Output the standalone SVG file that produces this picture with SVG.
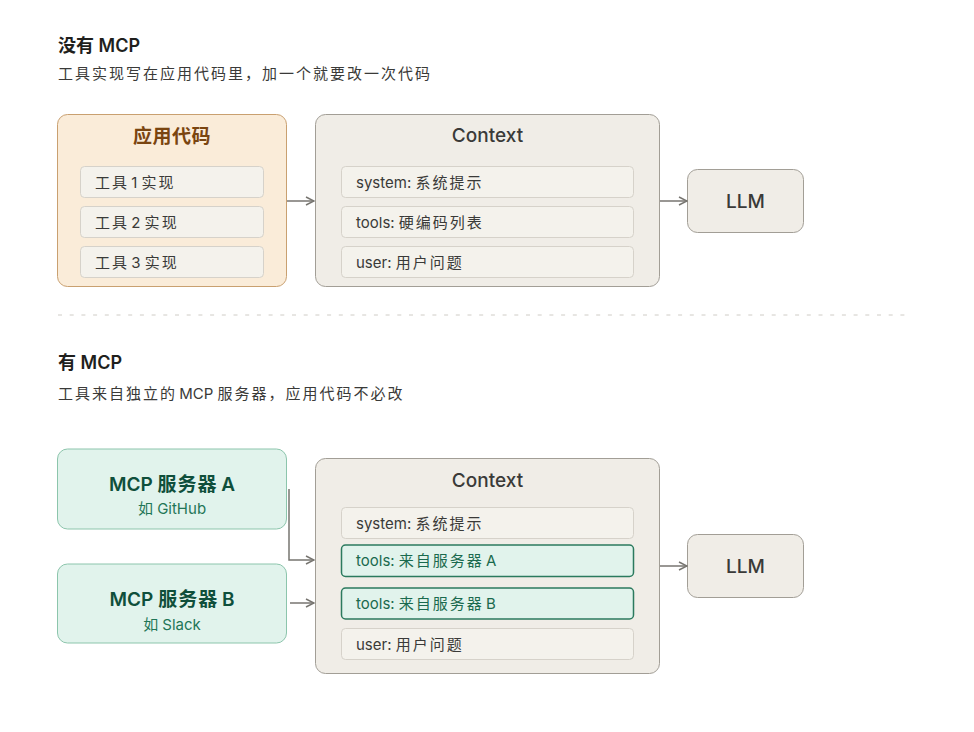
<svg xmlns="http://www.w3.org/2000/svg" width="974" height="732" viewBox="0 0 974 732">
<style>
text{font-family:Inter,"Noto Sans CJK SC","Liberation Sans",sans-serif;}
.c{letter-spacing:2px;}
.c1{letter-spacing:1px;}
.h{font-size:18px;font-weight:600;fill:#1f1f1d;}
.sub{font-size:15px;fill:#3a3a38;}
.app{fill:#FAECD9;stroke:#C9A070;stroke-width:1;}
.apptitle{font-size:19px;font-weight:700;fill:#7A4510;text-anchor:middle;letter-spacing:0.5px;}
.item{fill:#F4F2EC;stroke:#D6D2CA;stroke-width:1;}
.itext{font-size:15px;fill:#3a3a38;}
.ctx{fill:#F0EDE7;stroke:#A29E96;stroke-width:1;}
.ctitle{font-size:19px;font-weight:500;fill:#3a3a38;text-anchor:middle;}
.llm{fill:#F0EDE7;stroke:#A29E96;stroke-width:1;}
.llmt{font-size:19px;font-weight:500;fill:#3a3a38;text-anchor:middle;}
.mcp{fill:#E1F3EC;stroke:#8CC5AC;stroke-width:1;}
.mcpt{font-size:19px;font-weight:600;fill:#0F4F3B;text-anchor:middle;}
.mcps{font-size:15px;fill:#1F7657;text-anchor:middle;}
.gitem{fill:#E1F3EC;stroke:#2B7A5E;stroke-width:1.5;}
.gtext{font-size:15px;fill:#1A6A4E;}
.conn{fill:none;stroke:#777570;stroke-width:1.5;}
</style>
<defs>
<marker id="ah" viewBox="0 0 10 10" refX="9" refY="5" markerWidth="10" markerHeight="10" markerUnits="userSpaceOnUse" orient="auto">
<path d="M1,1 L9,5 L1,9" fill="none" stroke="#777570" stroke-width="1.5"/>
</marker>
</defs>
<rect width="974" height="732" fill="#ffffff"/>

<g id="heading-top">
<text class="h" x="58" y="52">没有 MCP</text>
<text class="sub" x="58" y="79"><tspan class="c">工具实现写在应用代码里，加一个就要改一次代码</tspan></text>
</g>

<g id="app-code">
<rect class="app" x="57.5" y="114.5" width="229" height="172" rx="10"/>
<text class="apptitle" x="172" y="143">应用代码</text>
<rect class="item" x="80.5" y="166.5" width="183" height="31" rx="4"/>
<text class="itext" x="95" y="188"><tspan class="c">工</tspan>具 1 <tspan class="c">实</tspan>现</text>
<rect class="item" x="80.5" y="206.5" width="183" height="31" rx="4"/>
<text class="itext" x="95" y="228"><tspan class="c">工</tspan>具 2 <tspan class="c">实</tspan>现</text>
<rect class="item" x="80.5" y="246.5" width="183" height="31" rx="4"/>
<text class="itext" x="95" y="268"><tspan class="c">工</tspan>具 3 <tspan class="c">实</tspan>现</text>
</g>

<g id="context-top">
<rect class="ctx" x="315.5" y="114.5" width="344" height="172" rx="10"/>
<text class="ctitle" x="487.5" y="142">Context</text>
<rect class="item" x="341.5" y="166.5" width="292" height="31" rx="4"/>
<text class="itext" x="356" y="188">system: <tspan class="c">系统提</tspan>示</text>
<rect class="item" x="341.5" y="206.5" width="292" height="31" rx="4"/>
<text class="itext" x="356" y="228">tools: <tspan class="c">硬编码列</tspan>表</text>
<rect class="item" x="341.5" y="246.5" width="292" height="31" rx="4"/>
<text class="itext" x="356" y="268">user: <tspan class="c">用户问</tspan>题</text>
</g>

<g id="llm-top">
<rect class="llm" x="687.5" y="169.5" width="116" height="63" rx="10"/>
<text class="llmt" x="745.5" y="208">LLM</text>
</g>

<g id="divider">
<line x1="58" y1="315" x2="912" y2="315" stroke="#CFCCC6" stroke-width="1" stroke-dasharray="4 7.7"/>
</g>

<g id="heading-bottom">
<text class="h" x="58" y="369">有 MCP</text>
<text class="sub" x="58" y="399"><tspan class="c">工具来自独立</tspan>的 MCP <tspan class="c">服务器，应用代码不必改</tspan></text>
</g>

<g id="mcp-a">
<rect class="mcp" x="57.5" y="449" width="229" height="80" rx="10"/>
<text class="mcpt" x="172" y="491">MCP <tspan class="c1">服务</tspan>器 A</text>
<text class="mcps" x="172" y="514">如 GitHub</text>
</g>

<g id="mcp-b">
<rect class="mcp" x="57.5" y="564" width="229" height="79" rx="10"/>
<text class="mcpt" x="172" y="606">MCP <tspan class="c1">服务</tspan>器 B</text>
<text class="mcps" x="172" y="630">如 Slack</text>
</g>

<g id="context-bottom">
<rect class="ctx" x="315.5" y="458.5" width="344" height="215" rx="10"/>
<text class="ctitle" x="487.5" y="487">Context</text>
<rect class="item" x="341.5" y="507.5" width="292" height="31" rx="4"/>
<text class="itext" x="356" y="529">system: <tspan class="c">系统提</tspan>示</text>
<rect class="gitem" x="341.5" y="545" width="292" height="31.5" rx="4"/>
<text class="gtext" x="356" y="566">tools: <tspan class="c">来自服务</tspan>器 A</text>
<rect class="gitem" x="341.5" y="588" width="292" height="31" rx="4"/>
<text class="gtext" x="356" y="609">tools: <tspan class="c">来自服务</tspan>器 B</text>
<rect class="item" x="341.5" y="628.5" width="292" height="31" rx="4"/>
<text class="itext" x="356" y="650">user: <tspan class="c">用户问</tspan>题</text>
</g>

<g id="llm-bottom">
<rect class="llm" x="687.5" y="534.5" width="116" height="63" rx="10"/>
<text class="llmt" x="745.5" y="573">LLM</text>
</g>

<g id="connectors">
<path class="conn" d="M287,201 L314,201" marker-end="url(#ah)"/>
<path class="conn" d="M660,201 L687,201" marker-end="url(#ah)"/>
<path class="conn" d="M289,489 L289,560 L314,560" marker-end="url(#ah)"/>
<path class="conn" d="M290,603 L314,603" marker-end="url(#ah)"/>
<path class="conn" d="M660,566 L687,566" marker-end="url(#ah)"/>
</g>
</svg>
